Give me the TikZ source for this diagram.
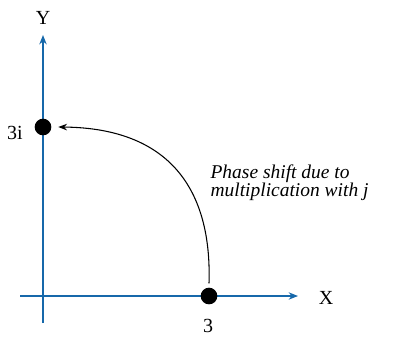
\documentclass[tikz,border=0pt]{standalone}
\usepackage{fontspec}
\setmainfont{Liberation Serif}
\usetikzlibrary{arrows.meta}
\definecolor{axisblue}{RGB}{22,104,170}

\begin{document}
\begin{tikzpicture}[
    >=Stealth,
    x=0.75pt, y=-0.75pt, % pixel grid, y going down
    axis/.style={draw=axisblue, line width=1.1pt, -{Stealth[length=7pt,width=5.5pt]}},
    dot/.style={circle, fill=black, inner sep=0pt, minimum size=12.5pt},
    lbl/.style={font=\rmfamily\fontsize{15}{17}\selectfont, inner sep=1pt}
]
\useasboundingbox (0,0) rectangle (399,337);

% ========== axes ==========
\coordinate (xs) at (20,296);
\coordinate (xe) at (298,296);
\coordinate (ys) at (43,323);
\coordinate (ye) at (43,35);
\draw[axis] (xs) -- (xe);
\draw[axis] (ys) -- (ye);
\node[lbl] (xl) at (326,298) {X};
\node[lbl] (yl) at (43,18) {Y};

% ========== points ==========
\node[dot] (p3) at (209,296) {};
\node[dot] (p3i) at (43,127) {};
\node[lbl] (l3) at (208,326) {3};
\node[lbl] (l3i) at (15,133) {3i};

% ========== phase shift ==========
\draw[->, line width=0.8pt] (p3.north) ++(0,-4) .. controls (212,190) and (170,128) .. ([xshift=5pt]p3i.east);
\node[lbl, anchor=west, align=left, font=\rmfamily\itshape\fontsize{14.6}{13.6}\selectfont] (ph) at (209,183)
    {Phase shift due to\\multiplication with j};

\end{tikzpicture}
\end{document}
